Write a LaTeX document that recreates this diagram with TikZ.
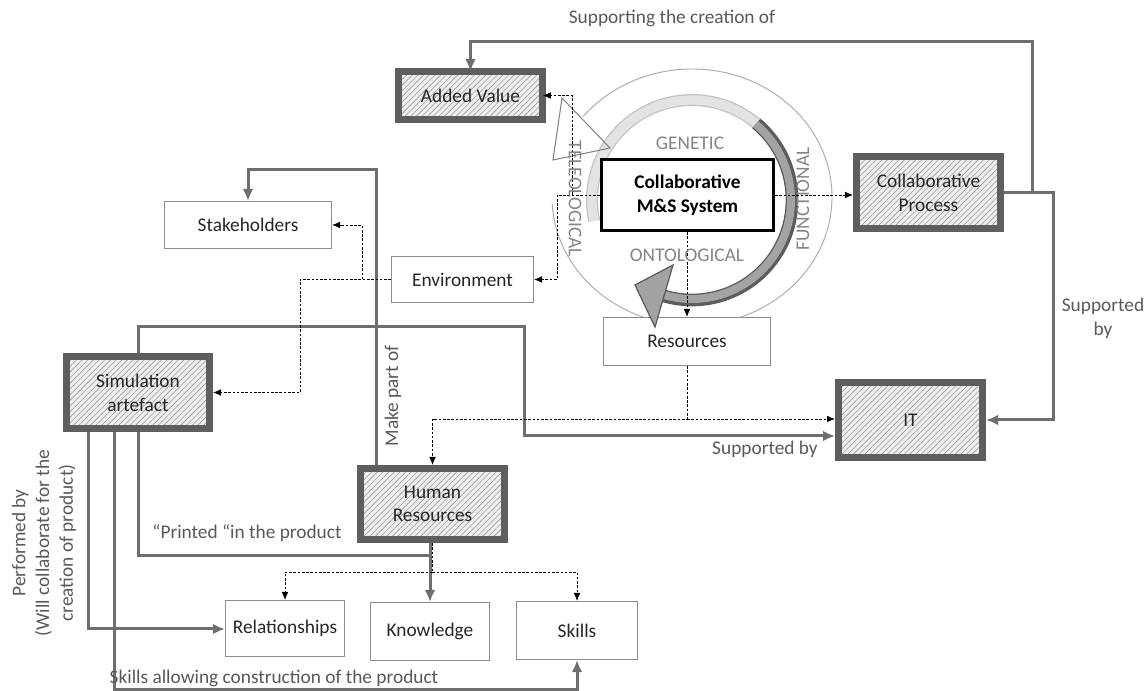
\documentclass[tikz,border=0pt]{standalone}
\usepackage{fontspec}
\setmainfont{Carlito}
\usetikzlibrary{arrows.meta,patterns,patterns.meta,calc}
\newcommand\diagfont{\fontsize{14.5}{17.8}\selectfont}
\definecolor{boxgray}{HTML}{5E5E5E}
\definecolor{linegray}{HTML}{6E6E6E}
\definecolor{hatchbg}{HTML}{EEEEEE}
\definecolor{hatchln}{HTML}{9A9A9A}
\definecolor{thinborder}{HTML}{8C8C8C}
\definecolor{labgray}{HTML}{595959}
\definecolor{cyclegray}{HTML}{858585}
\definecolor{txt}{HTML}{262626}
\definecolor{lightband}{HTML}{E3E3E3}
\definecolor{lightedge}{HTML}{C4C4C4}
\definecolor{darkband}{HTML}{A3A3A3}
\definecolor{darkedge}{HTML}{5C5C5C}
\begin{document}
\begin{tikzpicture}[x=0.75pt,y=0.75pt,
  every node/.style={font=\diagfont},
  hatchbox/.style={draw=boxgray, line width=5.25pt, preaction={fill=hatchbg},
    pattern={Lines[angle=45,distance=3pt,line width=0.45pt]}, pattern color=hatchln,
    inner sep=0pt, align=center, text=txt},
  thinbox/.style={draw=thinborder, line width=0.8pt, fill=white, inner sep=0pt, align=center, text=txt},
  conn/.style={draw=linegray, line width=2.25pt},
  connarrow/.style={conn, -{Latex[length=9pt,width=8pt]}},
  dconn/.style={draw=black, line width=0.6pt, dash pattern=on 2pt off 1.2pt},
  darrow/.style={dconn, -{Latex[length=6pt,width=5pt]}},
  lab/.style={text=labgray, inner sep=0pt},
  cyc/.style={text=cyclegray, inner sep=0pt}]
\fill[white] (0,0) rectangle (1147,-691);
\useasboundingbox (0,0) rectangle (1147,-691);

% thin ellipse of the cycle
\coordinate (ec) at (692,-197);
\draw[cyclegray!70, line width=0.7pt] ([shift={(-177:140 and 128)}]ec)
  arc[start angle=-177, end angle=141, x radius=140, y radius=128];

% cycle bands
\coordinate (cc) at (692,-200);
\draw[lightedge, line width=9pt] ([shift={(50:100)}]cc) arc[start angle=50, end angle=192, radius=100];
\draw[lightband, line width=7pt] ([shift={(50:100)}]cc) arc[start angle=50, end angle=192, radius=100];
\draw[darkedge, line width=9.5pt] ([shift={(50:100)}]cc) arc[start angle=50, end angle=-107, radius=100];
\draw[darkband, line width=6pt] ([shift={(50:99)}]cc) arc[start angle=50, end angle=-107, radius=99];
\draw[cyclegray, line width=0.8pt] (562,-98) -- (553,-160) -- (610,-148) -- cycle;

% nodes
\node[hatchbox, minimum width=108pt, minimum height=36pt] (av) at (470.5,-95.5) {Added Value};
\node[hatchbox, minimum width=108pt, minimum height=54pt] (cp) at (928.5,-192.5) {Collaborative\\Process};
\node[hatchbox, minimum width=108pt, minimum height=56.25pt] (it) at (910.5,-420) {IT};
\node[hatchbox, minimum width=107.25pt, minimum height=54pt] (sa) at (138,-392.5) {Simulation\\artefact};
\node[hatchbox, minimum width=108pt, minimum height=53.25pt] (hr) at (432.5,-504) {Human\\Resources};
\node[draw=black, line width=2.25pt, fill=white, minimum width=129pt, minimum height=53.25pt,
  inner sep=0pt, align=center, text=black, font=\diagfont\bfseries] (ms) at (687.5,-195) {Collaborative\\M\&S System};
\node[thinbox, minimum width=125.25pt, minimum height=35.25pt] (sh) at (248,-225) {Stakeholders};
\node[thinbox, minimum width=106.5pt, minimum height=34.5pt] (env) at (462.5,-279.5) {Environment};
\node[thinbox, minimum width=125.25pt, minimum height=36pt] (res) at (687,-341.5) {Resources};
\node[thinbox, minimum width=89.25pt, minimum height=42pt] (rel) at (285,-628.5) {Relationships};
\node[thinbox, minimum width=88.9pt, minimum height=43.5pt] (kn) at (430,-631.5) {Knowledge};
\node[thinbox, minimum width=90.75pt, minimum height=43.5pt] (sk) at (577,-630.5) {Skills};

% solid connectors
\coordinate (cpj) at (1032,-192.5);
\coordinate (topr) at (1032,-42);
\coordinate (topl) at (470.5,-42);
\draw[connarrow] (cpj) -- (topr) -- (topl) -- (av.north);
\coordinate (cpr) at (1053,-192.5);
\coordinate (cpb) at (1053,-420);
\draw[connarrow] (cp.east) -- (cpr) -- (cpb) -- (it.east);

\coordinate (sa1) at (138,-327);
\coordinate (sa2) at (524,-327);
\coordinate (sa3) at (524,-436);
\draw[connarrow] (sa.north) -- (sa1) -- (sa2) -- (sa3) -- (sa3 -| it.west);

\coordinate (mp1) at (376,-170);
\coordinate (mp2) at (248,-170);
\draw[connarrow] (hr.north -| mp1) -- (mp1) -- (mp2) -- (sh.north);

\draw[connarrow] (hr.south -| kn.north) -- (kn.north);
\coordinate (p1) at (138,-556);
\coordinate (p2) at (430,-556);
\draw[conn] (sa.south) -- (p1) -- (p2);
\coordinate (f1) at (88,-629);
\draw[connarrow] (sa.south -| f1) -- (f1) -- (f1 -| rel.west);
\coordinate (s1) at (114.5,-689);
\coordinate (s2) at (577,-689);
\draw[connarrow] (sa.south -| s1) -- (s1) -- (s2) -- (sk.south);

% dashed connectors
\coordinate (e1) at (300,-279.5);
\coordinate (e2) at (300,-392.5);
\coordinate (e3) at (362,-279.5);
\coordinate (e4) at (362,-225);
\draw[darrow] (env.west) -- (e1) -- (e2) -- (sa.east);
\draw[darrow] (e3) -- (e4) -- (sh.east);

\coordinate (m1) at (557,-195);
\coordinate (m2) at (557,-279.5);
\coordinate (m3) at (572,-195);
\coordinate (m4) at (572,-95.5);
\draw[darrow] (ms.west) -- (m1) -- (m2) -- (env.east);
\draw[darrow] (m3) -- (m4) -- (av.east);
\draw[darrow] (ms.east) -- (ms.east -| cp.west);
\draw[darrow] (ms.south -| res.north) -- (res.north);

\coordinate (r1) at (687,-419);
\coordinate (r2) at (432.5,-419);
\draw[darrow] (res.south) -- (r1) -- (r2) -- (hr.north);
\draw[darrow] (r1) -- (r1 -| it.west);

\coordinate (h1) at (432.5,-572);
\coordinate (h2) at (285,-572);
\coordinate (h3) at (577,-572);
\draw[dconn] (hr.south) -- (h1);
\draw[darrow] (h1) -- (h2) -- (rel.north);
\draw[darrow] (h1) -- (h3) -- (sk.north);

% big arrowhead of the cycle
\filldraw[fill=darkband, draw=gray!70!black, line width=0.9pt] (673,-265) -- (635,-285) -- (655,-327) -- cycle;

% cycle labels
\node[cyc] (gen) at (690,-143) {GENETIC};
\node[cyc] (ont) at (687,-255) {ONTOLOGICAL};
\node[cyc, rotate=90] (fun) at (803,-199) {FUNCTIONAL};
\node[cyc, rotate=-90] (tel) at (575,-199) {TELEOLOGICAL};

% connector labels
\node[lab] (l1) at (672,-18) {Supporting the creation of};
\node[lab, align=center] (l2) at (1103,-318.5) {Supported\\by};
\node[lab] (l3) at (765,-449) {Supported by};
\node[lab, rotate=90] (l4) at (393,-396) {Make part of};
\node[lab] (l5) at (247,-533) {“Printed “in the product};
\node[lab] (l6) at (274,-678) {Skills allowing construction of the product};
\node[lab, rotate=90, align=center] (l7) at (44,-543) {Performed by\\(Will collaborate for the\\creation of product)};
\end{tikzpicture}
\end{document}
